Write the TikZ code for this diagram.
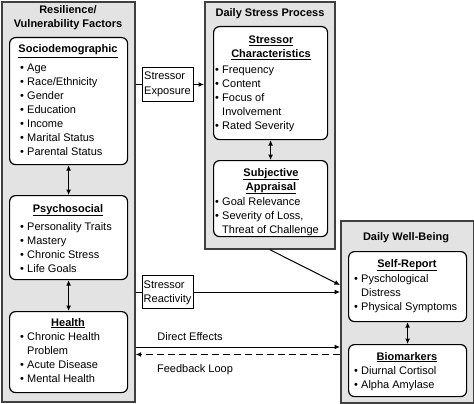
\documentclass[tikz,border=0pt]{standalone}
\usepackage{fontspec}
\setmainfont{Liberation Sans}
\usetikzlibrary{arrows.meta}
\newcommand\bul{\makebox[7pt][l]{\textbullet}}
\newcommand\ind{\hspace*{7pt}}
\begin{document}
\begin{tikzpicture}[x=1pt,y=-1pt,
  outer/.style={draw=black!75, line width=1.7pt, fill=black!11, inner sep=0pt, anchor=north west},
  inner/.style={draw=black, line width=1.2pt, fill=white, rounded corners=6pt, inner sep=0pt, anchor=north west},
  lbox/.style={draw=black, line width=1pt, fill=white, inner sep=0pt, anchor=north west},
  txt/.style={font=\fontsize{11}{14}\selectfont, inner sep=0pt, align=left, anchor=base west},
  ttl/.style={font=\fontsize{11}{14}\selectfont\bfseries, inner sep=0pt, align=center, anchor=base},
  lab/.style={font=\fontsize{11}{14}\selectfont, inner sep=0pt, anchor=base},
  conn/.style={line width=1pt},
  arr/.style={conn, -{Latex[length=5.5pt,width=5pt]}},
  darr/.style={conn, {Latex[length=5.5pt,width=5pt]}-{Latex[length=5.5pt,width=5pt]}}]
\useasboundingbox (0,0) rectangle (474,404);
% outer panels
\node[outer, minimum width=133pt, minimum height=400pt] (R) at (1,1) {};
\node[outer, minimum width=130pt, minimum height=247pt] (D) at (204,1) {};
\node[outer, minimum width=133pt, minimum height=182pt] (W) at (340,220) {};
% inner boxes
\node[inner, minimum width=118pt, minimum height=127pt] (S) at (9,37) {};
\node[inner, minimum width=118pt, minimum height=84pt] (P) at (9,195) {};
\node[inner, minimum width=118pt, minimum height=81pt] (H) at (9,311) {};
\node[inner, minimum width=114pt, minimum height=113pt] (C) at (213,26) {};
\node[inner, minimum width=114pt, minimum height=76pt] (A) at (213,160) {};
\node[inner, minimum width=118pt, minimum height=70pt] (SR) at (348,251) {};
\node[inner, minimum width=118pt, minimum height=52pt] (B) at (348,344) {};
\node[lbox, minimum width=51pt, minimum height=34pt] (E) at (142,67) {};
\node[lbox, minimum width=51pt, minimum height=33pt] (X) at (142,275) {};
% titles (multi-line nodes are anchored at the baseline of their last line)
\node[ttl] (Rt) at (68,28) {Resilience/\\Vulnerability Factors};
\node[ttl] (Dt) at (270,17) {Daily Stress Process};
\node[ttl] (Wt) at (406,240) {Daily Well-Being};
\node[ttl] (St) at (68,53) {\underline{Sociodemographic}};
\node[ttl] (Pt) at (68,212) {\underline{Psychosocial}};
\node[ttl] (Ht) at (68,326) {\underline{Health}};
\node[ttl] (Ct) at (271,58) {\underline{Stressor}\\\underline{Characteristics}};
\node[ttl] (At) at (271,190) {\underline{Subjective}\\\underline{Appraisal}};
\node[ttl] (SRt) at (407,267) {\underline{Self-Report}};
\node[ttl] (Bt) at (407,360) {\underline{Biomarkers}};
% lists
\node[txt] (Sl) at (20,155) {\bul Age\\\bul Race/Ethnicity\\\bul Gender\\\bul Education\\\bul Income\\\bul Marital Status\\\bul Parental Status};
\node[txt] (Pl) at (20,272) {\bul Personality Traits\\\bul Mastery\\\bul Chronic Stress\\\bul Life Goals};
\node[txt] (Hl) at (20,382) {\bul Chronic Health\\\ind Problem\\\bul Acute Disease\\\bul Mental Health};
\node[txt] (Cl) at (215,129) {\bul Frequency\\\bul Content\\\bul Focus of\\\ind Involvement\\\bul Rated Severity};
\node[txt] (Al) at (215,233) {\bul Goal Relevance\\\bul Severity of Loss,\\\ind Threat of Challenge};
\node[txt] (SRl) at (354,310) {\bul Pyschological\\\ind Distress\\\bul Physical Symptoms};
\node[txt] (Bl) at (354,388) {\bul Diurnal Cortisol\\\bul Alpha Amylase};
\node[txt] (Et) at (144,94) {Stressor\\Exposure};
\node[txt] (Xt) at (143.5,302) {Stressor\\Reactivity};
\node[lab] (DEl) at (190,340) {Direct Effects};
\node[lab] (FBl) at (195,372) {Feedback Loop};
% connectors
\draw[conn] (R.east |- E.west) -- (E.west);
\draw[arr] (E.east) -- (E.east -| D.west);
\draw[darr] (S.south) -- (P.north);
\draw[darr] (P.south) -- (H.north);
\draw[darr] (C.south) -- (A.north);
\draw[darr] (SR.south) -- (B.north);
\draw[conn] (R.east |- X.west) -- (X.west);
\draw[arr] (X.east) -- (X.east -| W.west);
\coordinate (wdiag) at (340,285);
\draw[arr] (D.south) -- (wdiag);
\coordinate (de) at (0,347);
\coordinate (fb) at (0,354.5);
\draw[arr] (R.east |- de) -- (W.west |- de);
\draw[arr, dash pattern=on 7pt off 4pt] (W.west |- fb) -- (R.east |- fb);
\end{tikzpicture}
\end{document}
